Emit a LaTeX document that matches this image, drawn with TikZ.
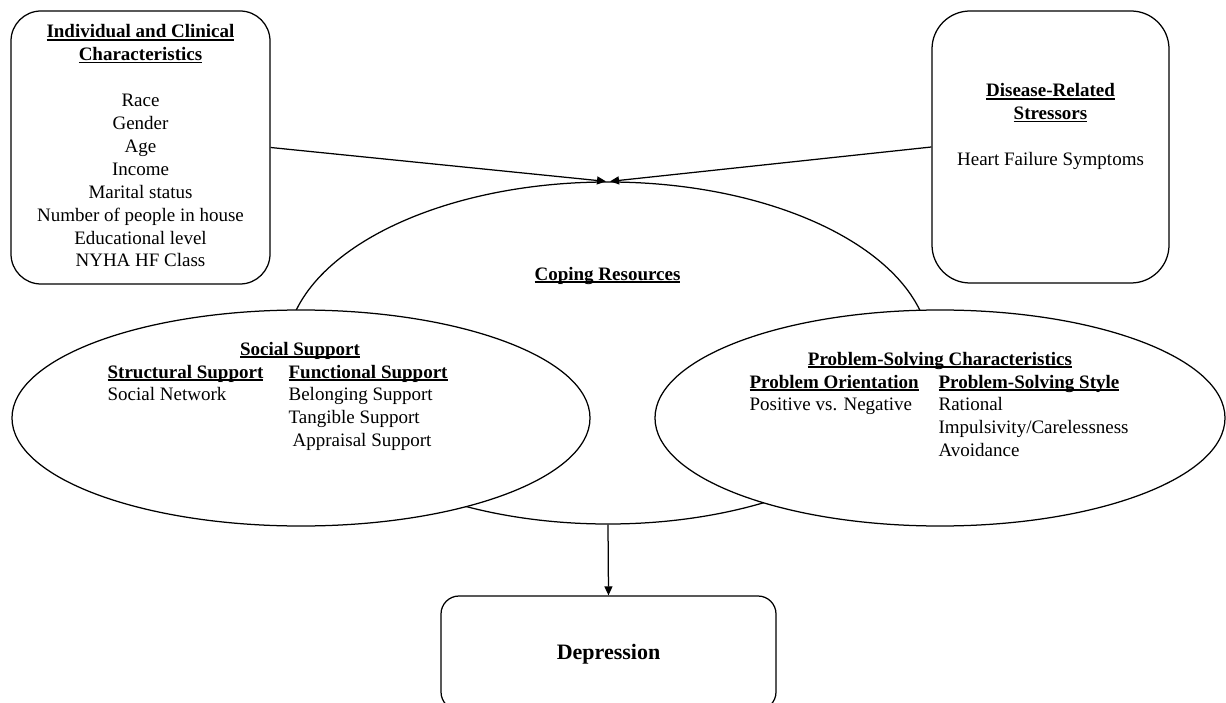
\documentclass[tikz,border=0pt]{standalone}
\usepackage{fontspec}
\setmainfont{Liberation Serif}
\usetikzlibrary{arrows.meta,shapes.geometric}
\newcommand\myul[1]{\setbox0\hbox{#1}\rlap{\rule[-2.6pt]{\wd0}{1.2pt}}\box0}
\newcommand\ctab[1]{\begin{tabular}[t]{@{}c@{}}#1\end{tabular}}
\newcommand\ltab[1]{\begin{tabular}[t]{@{}l@{}}#1\end{tabular}}
\newcommand\hd[1]{\textbf{\myul{#1}}}
\begin{document}
\begin{tikzpicture}[x=1pt,y=-1pt,line width=1.25pt,
  rbox/.style={draw,rounded corners=#1,inner sep=0pt,fill=white},
  oval/.style={draw,ellipse,fill=white,inner sep=0pt},
  txt/.style={inner sep=0pt,font=\fontsize{19}{22.9}\selectfont},
  arr/.style={-{Triangle[length=9pt,width=8pt]}}]
\path[use as bounding box] (0,0) rectangle (1226,703);
\clip (0,0) rectangle (1226,703);
% shapes
\node[rbox=30pt,minimum width=259pt,minimum height=273pt] (indiv) at (140.5,147.5) {};
\node[rbox=38pt,minimum width=237pt,minimum height=272pt] (stress) at (1050.5,147) {};
\node[oval,minimum width=644pt,minimum height=342pt] (cope) at (608,353) {};
\node[oval,minimum width=578pt,minimum height=216pt] (social) at (301,418) {};
\node[oval,minimum width=570pt,minimum height=216pt] (prob) at (940,418) {};
\node[rbox=18pt,minimum width=335pt,minimum height=114pt] (depr) at (608.5,653) {};
% texts
\node[txt,anchor=base] (indivtxt) at (140.5,38) {\ctab{\hd{Individual and Clinical}\\\hd{Characteristics}\\ \\Race\\Gender\\Age\\Income\\Marital status\\Number of people in house\\Educational level\\NYHA HF Class}};
\node[txt,anchor=base] (stresstxt) at (1050.5,97) {\ctab{\hd{Disease-Related}\\\hd{Stressors}\\ \\Heart Failure Symptoms}};
\node[txt,anchor=base] (copetxt) at (607.5,280) {\hd{Coping Resources}};
\node[txt,anchor=base] (soctitle) at (300,355) {\hd{Social Support}};
\node[txt,anchor=base west] (structtxt) at (107,378) {\ltab{\hd{Structural Support}\\Social Network}};
\node[txt,anchor=base west] (functxt) at (288,378) {\ltab{\hd{Functional Support}\\Belonging Support\\Tangible Support\\\hspace{4pt}Appraisal Support}};
\node[txt,anchor=base] (probtitle) at (940,365) {\hd{Problem-Solving Characteristics}};
\node[txt,anchor=base west] (orienttxt) at (749,388) {\ltab{\hd{Problem Orientation}\\Positive vs. Negative}};
\node[txt,anchor=base west] (styletxt) at (938,388) {\ltab{\hd{Problem-Solving Style}\\Rational\\Impulsivity/Carelessness\\Avoidance}};
\node[txt,anchor=base,font=\fontsize{22}{26}\selectfont\bfseries] (deprtxt) at (608.5,659) {Depression};
% connectors
\draw[arr] (indiv.east) -- ([xshift=-2pt]cope.north);
\draw[arr] (stress.west) -- ([xshift=2pt]cope.north);
\draw[arr] (cope.south) -- (depr.north);
\end{tikzpicture}
\end{document}
